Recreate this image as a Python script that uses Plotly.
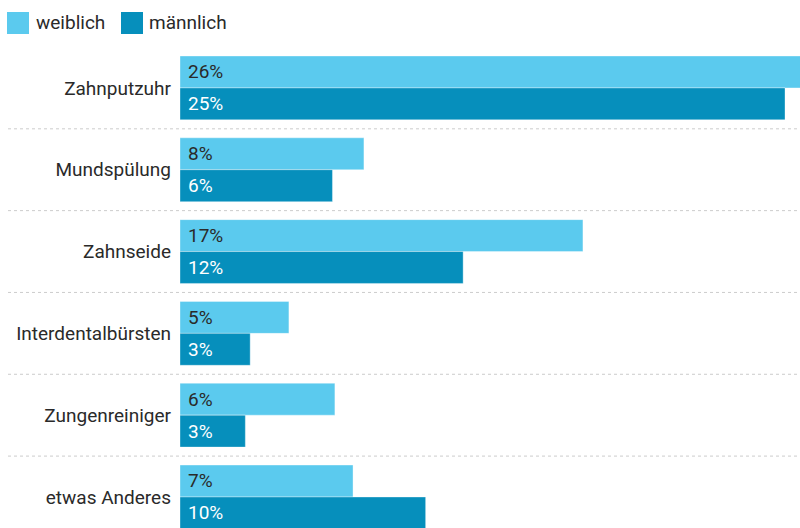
import plotly.graph_objects as go

categories = ["Zahnputzuhr", "Mundspülung", "Zahnseide", "Interdentalbürsten", "Zungenreiniger", "etwas Anderes"]
weiblich = [26.0, 7.6, 16.65, 4.5, 6.4, 7.15]
maennlich = [25.0, 6.3, 11.7, 2.9, 2.7, 10.15]
weiblich_labels = ["26%", "8%", "17%", "5%", "6%", "7%"]
maennlich_labels = ["25%", "6%", "12%", "3%", "3%", "10%"]
series_names = ["weiblich", "männlich"]

C_LIGHT = "#5BCAEE"
C_DARK = "#068FBC"
FONT = "Roboto"
TXT = "#2A2A2A"
FS = 19

W, H = 800, 528
ML, MT, MB, MR = 180, 47, 0, 0
plot_w = W - ML - MR
plot_h = H - MT - MB
y_top, y_bot = -0.5, 5.379
x_max = 25.62

fig = go.Figure()
fig.add_trace(go.Bar(y=categories, x=weiblich, orientation="h", name=series_names[0],
                     marker=dict(color=C_LIGHT, line=dict(color="rgba(255,255,255,0.35)", width=1)),
                     showlegend=False, hoverinfo="skip"))
fig.add_trace(go.Bar(y=categories, x=maennlich, orientation="h", name=series_names[1],
                     marker=dict(color=C_DARK, line=dict(color="rgba(255,255,255,0.35)", width=1)),
                     showlegend=False, hoverinfo="skip"))

annotations = []
for cat, lab in zip(categories, weiblich_labels):
    annotations.append(dict(x=0, y=cat, xref="x", yref="y", text=lab, showarrow=False,
                            xanchor="left", yanchor="middle", xshift=6, yshift=16,
                            font=dict(family=FONT, size=FS, color=TXT)))
for cat, lab in zip(categories, maennlich_labels):
    annotations.append(dict(x=0, y=cat, xref="x", yref="y", text=lab, showarrow=False,
                            xanchor="left", yanchor="middle", xshift=6, yshift=-16,
                            font=dict(family=FONT, size=FS, color="white")))

def px_x(p):
    return (p - ML) / plot_w

def px_y(p):
    return (H - MB - p) / plot_h

shapes = []
# separator lines between categories
for i in range(len(categories) - 1):
    yv = i + 0.5
    yp = (y_bot - yv) / (y_bot - y_top)
    shapes.append(dict(type="line", xref="paper", yref="paper", x0=px_x(8), x1=1, y0=yp, y1=yp,
                       line=dict(color="#CCCCCC", width=1, dash="dot")))

# legend
legend_items = [(series_names[0], C_LIGHT, 7, 34), (series_names[1], C_DARK, 121, 147)]
for name, col, sx, tx in legend_items:
    shapes.append(dict(type="rect", xref="paper", yref="paper", x0=px_x(sx), x1=px_x(sx + 22),
                       y0=px_y(34), y1=px_y(12), fillcolor=col, line=dict(width=0)))
    annotations.append(dict(x=px_x(tx), y=px_y(22), xref="paper", yref="paper", text=name,
                            showarrow=False, xanchor="left", yanchor="middle",
                            font=dict(family=FONT, size=FS, color=TXT)))

fig.update_layout(
    width=W, height=H,
    margin=dict(l=ML, r=MR, t=MT, b=MB, pad=0),
    paper_bgcolor="white", plot_bgcolor="white",
    barmode="group", bargap=0.22, bargroupgap=0,
    font=dict(family=FONT, size=FS, color=TXT),
    xaxis=dict(range=[0, x_max], visible=False, fixedrange=True),
    yaxis=dict(categoryorder="array", categoryarray=categories, range=[y_bot, y_top],
               showgrid=False, zeroline=False, showline=False, ticks="",
               ticklabelstandoff=8, tickfont=dict(family=FONT, size=FS, color=TXT), fixedrange=True),
    shapes=shapes, annotations=annotations,
    showlegend=False,
)

fig.write_html("out.html", config={"displayModeBar": False})
